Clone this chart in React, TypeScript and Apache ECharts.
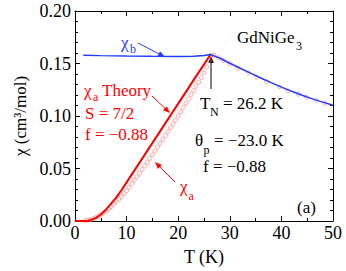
import React, { useEffect, useRef } from "react";
import * as echarts from "echarts";

// ---- data ----
const theoryT = [0, 1, 2, 2.5, 3, 4, 5, 6, 7, 8, 9, 10, 12, 14, 16, 18, 20, 22, 24, 26.3];
const theoryChi = [0, 0, 0, 0.0002, 0.0008, 0.0028, 0.0062, 0.0108, 0.0165, 0.0225, 0.0293, 0.0368, 0.0518, 0.0668, 0.0818, 0.0968, 0.1118, 0.1268, 0.1418, 0.1588];

const chiBT = [1.6, 5, 10, 15, 20, 23, 25, 26.3, 28, 30, 32, 34, 36, 38, 40, 42, 44, 46, 48, 50];
const chiBVal = [0.1578, 0.1575, 0.1571, 0.1568, 0.1567, 0.157, 0.1576, 0.1585, 0.1552, 0.1502, 0.1455, 0.1408, 0.1362, 0.1318, 0.1275, 0.1235, 0.1198, 0.1163, 0.1132, 0.1103];

const chiAT = [
  2.0, 2.5, 3.0, 3.5, 4.0, 4.5, 5.0, 5.5, 6.0, 6.5, 7.0, 7.5, 8.0, 8.5, 9.0, 9.5,
  10.0, 10.5, 11.0, 11.5, 12.0, 12.5, 13.0, 13.5, 14.0, 14.5, 15.0, 15.5, 16.0, 16.5,
  17.0, 17.5, 18.0, 18.5, 19.0, 19.5, 20.0, 20.5, 21.0, 21.5, 22.0, 22.5, 23.0, 23.5,
  24.0, 24.5, 25.0, 25.5, 26.0, 26.4,
  26.9, 27.8, 28.7, 30.0, 31.6, 33.6, 35.2, 37.1, 39.7, 41.3, 43.3, 44.9, 46.8, 48.4,
];
const chiAVal = [
  0.0003, 0.0008, 0.0014, 0.0022, 0.0032, 0.0045, 0.006, 0.0077, 0.0095, 0.0115, 0.0137, 0.016, 0.0184, 0.0208, 0.0233, 0.026,
  0.0287, 0.032, 0.0354, 0.0388, 0.0422, 0.0456, 0.0491, 0.0525, 0.056, 0.0595, 0.063, 0.0667, 0.0703, 0.074,
  0.0777, 0.0814, 0.0851, 0.0888, 0.0925, 0.0962, 0.1, 0.104, 0.108, 0.112, 0.1161, 0.1201, 0.1242, 0.1282,
  0.1323, 0.1364, 0.141, 0.1465, 0.153, 0.158,
  0.1578, 0.1555, 0.153, 0.1499, 0.1456, 0.1409, 0.137, 0.1326, 0.1277, 0.124, 0.1209, 0.1178, 0.1147, 0.1122,
];

const xTicks = { min: 0, max: 50, interval: 10 };
const yTicks = { min: 0, max: 0.2, interval: 0.05 };

const FONT = "Liberation Serif";
const RED = "#ff0000";
const BLUE = "#1f3cff";
const PINK = "#ff8c8c";

function txt(x: number, y: number, text: string, fill: string, size = 17) {
  return {
    type: "text",
    x,
    y,
    silent: true,
    style: {
      text,
      fill,
      font: `${size}px "Liberation Serif", "Times New Roman", serif`,
      fontSize: size,
      fontFamily: FONT,
      verticalAlign: "middle",
      align: "left",
    },
  };
}

function arrow(x1: number, y1: number, x2: number, y2: number, color: string, len = 7, half = 2.8) {
  const dx = x2 - x1;
  const dy = y2 - y1;
  const d = Math.sqrt(dx * dx + dy * dy);
  const ux = dx / d;
  const uy = dy / d;
  const bx = x2 - ux * len;
  const by = y2 - uy * len;
  return [
    {
      type: "line",
      silent: true,
      shape: { x1, y1, x2: bx + ux * 1, y2: by + uy * 1 },
      style: { stroke: color, lineWidth: 1 },
    },
    {
      type: "polygon",
      silent: true,
      shape: {
        points: [
          [x2, y2],
          [bx - uy * half, by + ux * half],
          [bx + uy * half, by - ux * half],
        ],
      },
      style: { fill: color },
    },
  ];
}

function mkAxis(extra: any, minorSplit: number) {
  return {
    type: "value",
    axisLine: { show: true, onZero: false, lineStyle: { color: "#000", width: 1 } },
    axisTick: { show: true, inside: true, length: 5, lineStyle: { color: "#000", width: 1 } },
    minorTick: { show: true, splitNumber: minorSplit, length: 3, lineStyle: { color: "#000", width: 1 } },
    splitLine: { show: false },
    minorSplitLine: { show: false },
    ...extra,
  };
}

export default function App() {
  const ref = useRef<HTMLDivElement>(null);
  useEffect(() => {
    document.body.style.margin = "0";
    if (!ref.current) return;
    const chart = echarts.init(ref.current, null, { renderer: "svg" });
    const pair = (a: number[], b: number[]) => a.map((t, i) => [t, b[i]]);
    chart.setOption({
      animation: false,
      backgroundColor: "#fff",
      textStyle: { fontFamily: FONT },
      grid: { left: 75, right: 13, top: 11, bottom: 44 },
      xAxis: [
        mkAxis(
          {
            ...xTicks,
            axisLabel: { color: "#000", fontSize: 18, fontFamily: FONT, margin: 3 },
            name: "T (K)",
            nameLocation: "middle",
            nameGap: 27,
            nameTextStyle: { color: "#000", fontSize: 18, fontFamily: FONT },
          },
          2
        ),
        mkAxis({ ...xTicks, position: "top", axisLabel: { show: false } }, 2),
      ],
      yAxis: [
        mkAxis(
          {
            ...yTicks,
            axisLabel: {
              color: "#000",
              fontSize: 18,
              fontFamily: FONT,
              margin: 4,
              formatter: (v: number) => v.toFixed(2),
            },
            name: "χ (cm³/mol)",
            nameLocation: "middle",
            nameGap: 36,
            nameRotate: 90,
            nameTextStyle: { color: "#000", fontSize: 17, fontFamily: FONT },
          },
          5
        ),
        mkAxis({ ...yTicks, position: "right", axisLabel: { show: false } }, 5),
      ],
      series: [
        {
          type: "scatter",
          data: pair(chiAT, chiAVal),
          symbol: "circle",
          symbolSize: 4,
          itemStyle: { color: "rgba(255,255,255,0)", borderColor: PINK, borderWidth: 1 },
          silent: true,
          z: 2,
        },
        {
          type: "line",
          data: pair(theoryT, theoryChi),
          showSymbol: false,
          lineStyle: { color: RED, width: 2 },
          silent: true,
          z: 3,
        },
        {
          type: "line",
          data: pair(chiBT, chiBVal),
          showSymbol: false,
          lineStyle: { color: BLUE, width: 1.5 },
          silent: true,
          z: 4,
        },
      ],
      graphic: [
        txt(121, 42, "χ", BLUE),
        txt(130, 49, "b", BLUE, 12),
        ...arrow(138, 43, 165, 57, BLUE),
        txt(84, 90, "χ", RED),
        txt(93, 97, "a", RED, 12),
        txt(102, 90, "Theory", RED),
        ...arrow(152, 96, 170, 113, RED),
        txt(85, 113, "S = 7/2", RED),
        txt(85, 134, "f = −0.88", RED),
        txt(180, 186, "χ", RED),
        txt(188.5, 196, "a", RED, 12),
        ...arrow(175, 182, 155, 162, RED),
        txt(237, 37, "GdNiGe", "#000"),
        txt(296, 46, "3", "#000", 12),
        ...arrow(211, 89, 211, 56, "#000"),
        txt(200, 103, "T", "#000"),
        txt(210, 112, "N", "#000", 12),
        txt(223, 103, "= 26.2 K", "#000"),
        txt(195, 140, "θ", "#000"),
        txt(203.5, 150, "p", "#000", 12),
        txt(214, 140, "= −23.0 K", "#000"),
        txt(203, 166, "f = −0.88", "#000"),
        txt(297, 207, "(a)", "#000"),
      ],
    });
    return () => chart.dispose();
  }, []);
  return (
    <div
      ref={ref}
      style={{ position: "absolute", left: 0, top: 0, width: 346, height: 271, background: "#fff" }}
    />
  );
}
